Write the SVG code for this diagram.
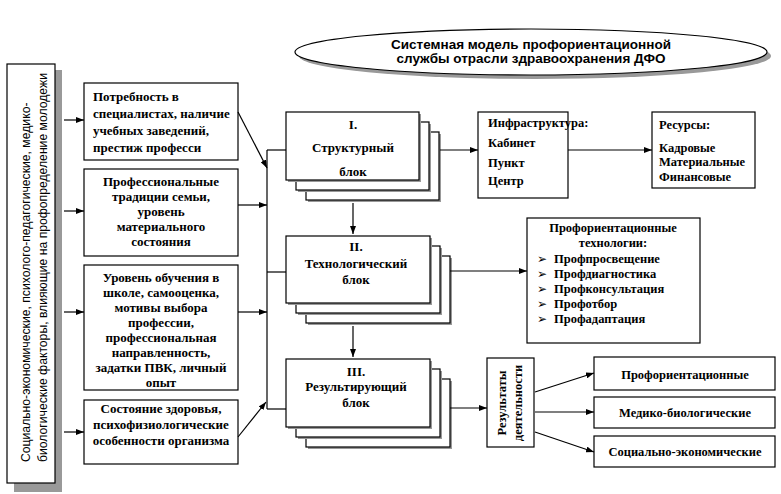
<svg xmlns="http://www.w3.org/2000/svg" width="781" height="494" viewBox="0 0 781 494">
<defs>
<marker id="ah" viewBox="0 0 8 6" refX="8" refY="3" markerWidth="8" markerHeight="6" markerUnits="userSpaceOnUse" orient="auto">
<path d="M0,0 L8,3 L0,6 z" fill="#000"/>
</marker>
</defs>
<style>
.box{fill:#fff;stroke:#000;stroke-width:1.2}
.sh{fill:#999}
.t{font-family:"Liberation Serif","Times New Roman",serif;font-weight:bold;font-size:13px;fill:#000}
.m{text-anchor:middle}
.ss{font-family:"Liberation Sans",Arial,sans-serif;font-weight:normal;font-size:12.2px;fill:#000}
.ln{stroke:#000;stroke-width:1.2;fill:none}
.ar{stroke:#000;stroke-width:1.2;fill:none;marker-end:url(#ah)}
</style>
<rect width="781" height="494" fill="#fff"/>

<g id="title">
<ellipse cx="535" cy="56" rx="236" ry="23" class="sh"/>
<ellipse cx="531" cy="52" rx="236" ry="23" class="box"/>
<text class="ss m" x="531" y="49" style="font-weight:bold;font-size:13.5px">Системная модель профориентационной</text>
<text class="ss m" x="531" y="63" style="font-weight:bold;font-size:13.5px">службы отрасли здравоохранения ДФО</text>
</g>

<g id="factors">
<rect x="14" y="70" width="48" height="422" class="sh"/>
<rect x="7" y="64" width="48" height="419" class="box"/>
<text class="ss" transform="translate(30,462) rotate(-90)">Социально-экономические, психолого-педагогические, медико-</text>
<text class="ss" transform="translate(47,462) rotate(-90)">биологические факторы, влияющие на профопределение молодежи</text>
</g>

<g id="need">
<rect x="84" y="83" width="154" height="77" class="box"/>
<text class="t" x="93" y="101">Потребность в</text>
<text class="t" x="93" y="118">специалистах, наличие</text>
<text class="t" x="93" y="135">учебных заведений,</text>
<text class="t" x="93" y="152">престиж професси</text>
</g>

<g id="traditions">
<rect x="84" y="169" width="154" height="87" class="box"/>
<text class="t m" x="161" y="186">Профессиональные</text>
<text class="t m" x="161" y="201">традиции семьи,</text>
<text class="t m" x="161" y="216">уровень</text>
<text class="t m" x="161" y="231">материального</text>
<text class="t m" x="161" y="246">состояния</text>
</g>

<g id="education">
<rect x="84" y="265" width="154" height="125" class="box"/>
<text class="t m" x="161" y="282">Уровень обучения в</text>
<text class="t m" x="161" y="297">школе, самооценка,</text>
<text class="t m" x="161" y="312">мотивы выбора</text>
<text class="t m" x="161" y="327">профессии,</text>
<text class="t m" x="161" y="342">профессиональная</text>
<text class="t m" x="161" y="357">направленность,</text>
<text class="t m" x="161" y="372">задатки ПВК, личный</text>
<text class="t m" x="161" y="387">опыт</text>
</g>

<g id="health">
<rect x="84" y="400" width="154" height="64" class="box"/>
<text class="t m" x="161" y="413">Состояние здоровья,</text>
<text class="t m" x="161" y="429">психофизиологические</text>
<text class="t m" x="161" y="445">особенности организма</text>
</g>

<g id="block1">
<rect x="308" y="134" width="133" height="68" class="sh"/>
<rect x="306" y="132" width="133" height="68" class="box"/>
<rect x="298" y="124" width="133" height="68" class="sh"/>
<rect x="296" y="122" width="133" height="68" class="box"/>
<rect x="288" y="114" width="133" height="68" class="sh"/>
<rect x="286" y="112" width="133" height="68" class="box"/>
<text class="t m" x="353" y="129">I.</text>
<text class="t m" x="353" y="152">Структурный</text>
<text class="t m" x="353" y="176">блок</text>
</g>

<g id="block2">
<rect x="308" y="258" width="144" height="67" class="sh"/>
<rect x="306" y="256" width="144" height="67" class="box"/>
<rect x="298" y="248" width="144" height="67" class="sh"/>
<rect x="296" y="246" width="144" height="67" class="box"/>
<rect x="288" y="238" width="144" height="67" class="sh"/>
<rect x="286" y="236" width="144" height="67" class="box"/>
<text class="t m" x="356" y="251">II.</text>
<text class="t m" x="356" y="268">Технологический</text>
<text class="t m" x="356" y="284">блок</text>
</g>

<g id="block3">
<rect x="308" y="381" width="144" height="68" class="sh"/>
<rect x="306" y="379" width="144" height="68" class="box"/>
<rect x="298" y="371" width="144" height="68" class="sh"/>
<rect x="296" y="369" width="144" height="68" class="box"/>
<rect x="288" y="361" width="144" height="68" class="sh"/>
<rect x="286" y="359" width="144" height="68" class="box"/>
<text class="t m" x="356" y="376">III.</text>
<text class="t m" x="356" y="391">Результирующий</text>
<text class="t m" x="356" y="407">блок</text>
</g>

<g id="infra">
<rect x="478" y="112" width="90" height="86" class="box"/>
<text class="t" x="488" y="127" style="font-size:12.5px">Инфраструктура:</text>
<text class="t" x="488" y="147" style="font-size:12.5px">Кабинет</text>
<text class="t" x="488" y="167" style="font-size:12.5px">Пункт</text>
<text class="t" x="488" y="185" style="font-size:12.5px">Центр</text>
</g>

<g id="resources">
<rect x="652" y="112" width="103" height="76" class="box"/>
<text class="t" x="659" y="129" style="font-size:12.5px">Ресурсы:</text>
<text class="t" x="659" y="152" style="font-size:12.5px">Кадровые</text>
<text class="t" x="659" y="166" style="font-size:12.5px">Материальные</text>
<text class="t" x="659" y="181" style="font-size:12.5px">Финансовые</text>
</g>

<g id="technologies">
<rect x="527" y="218" width="173" height="125" class="box"/>
<text class="t m" x="613" y="232" style="font-size:12.5px">Профориентационные</text>
<text class="t m" x="613" y="247" style="font-size:12.5px">технологии:</text>
<g style="font-family:'DejaVu Sans',sans-serif;font-size:12px">
<text x="537" y="263">➢</text>
<text x="537" y="278">➢</text>
<text x="537" y="293">➢</text>
<text x="537" y="308">➢</text>
<text x="537" y="323">➢</text>
</g>
<text class="t" x="554" y="263" style="font-size:12.5px">Профпросвещение</text>
<text class="t" x="554" y="278" style="font-size:12.5px">Профдиагностика</text>
<text class="t" x="554" y="293" style="font-size:12.5px">Профконсультация</text>
<text class="t" x="554" y="308" style="font-size:12.5px">Профотбор</text>
<text class="t" x="554" y="323" style="font-size:12.5px">Профадаптация</text>
</g>

<g id="results">
<rect x="487" y="358" width="47" height="89" class="box"/>
<text class="t m" transform="translate(506,403) rotate(-90)" style="font-size:12.5px">Результаты</text>
<text class="t m" transform="translate(522,403) rotate(-90)" style="font-size:12.5px">деятельности</text>
</g>

<g id="r-prof">
<rect x="594" y="357" width="181" height="33" class="box"/>
<text class="t m" x="685" y="379" style="font-size:12.5px">Профориентационные</text>
</g>
<g id="r-med">
<rect x="594" y="397" width="181" height="31" class="box"/>
<text class="t m" x="685" y="417" style="font-size:12.5px">Медико-биологические</text>
</g>
<g id="r-soc">
<rect x="594" y="436" width="181" height="31" class="box"/>
<text class="t m" x="685" y="456" style="font-size:12.5px">Социально-экономические</text>
</g>

<g id="connectors">
<path class="ar" d="M64,120 H84"/>
<path class="ar" d="M64,211 H84"/>
<path class="ar" d="M64,312 H84"/>
<path class="ar" d="M64,432 H84"/>
<path class="ar" d="M238,112 L267,168"/>
<path class="ar" d="M238,205 H267"/>
<path class="ar" d="M238,312 H267"/>
<path class="ar" d="M238,437 L266,402"/>
<path class="ln" d="M267,150 V409"/>
<path class="ln" d="M267,150 H286"/>
<path class="ln" d="M267,272 H286"/>
<path class="ln" d="M267,409 H286"/>
<path class="ar" d="M353,203 V234"/>
<path class="ar" d="M353,326 V357"/>
<path class="ar" d="M440,150 H478"/>
<path class="ar" d="M568,150 H652"/>
<path class="ar" d="M450,271 H527"/>
<path class="ar" d="M450,408 H487"/>
<path class="ar" d="M535,392 L594,373"/>
<path class="ar" d="M535,412 H594"/>
<path class="ar" d="M535,432 L594,452"/>
</g>
</svg>
